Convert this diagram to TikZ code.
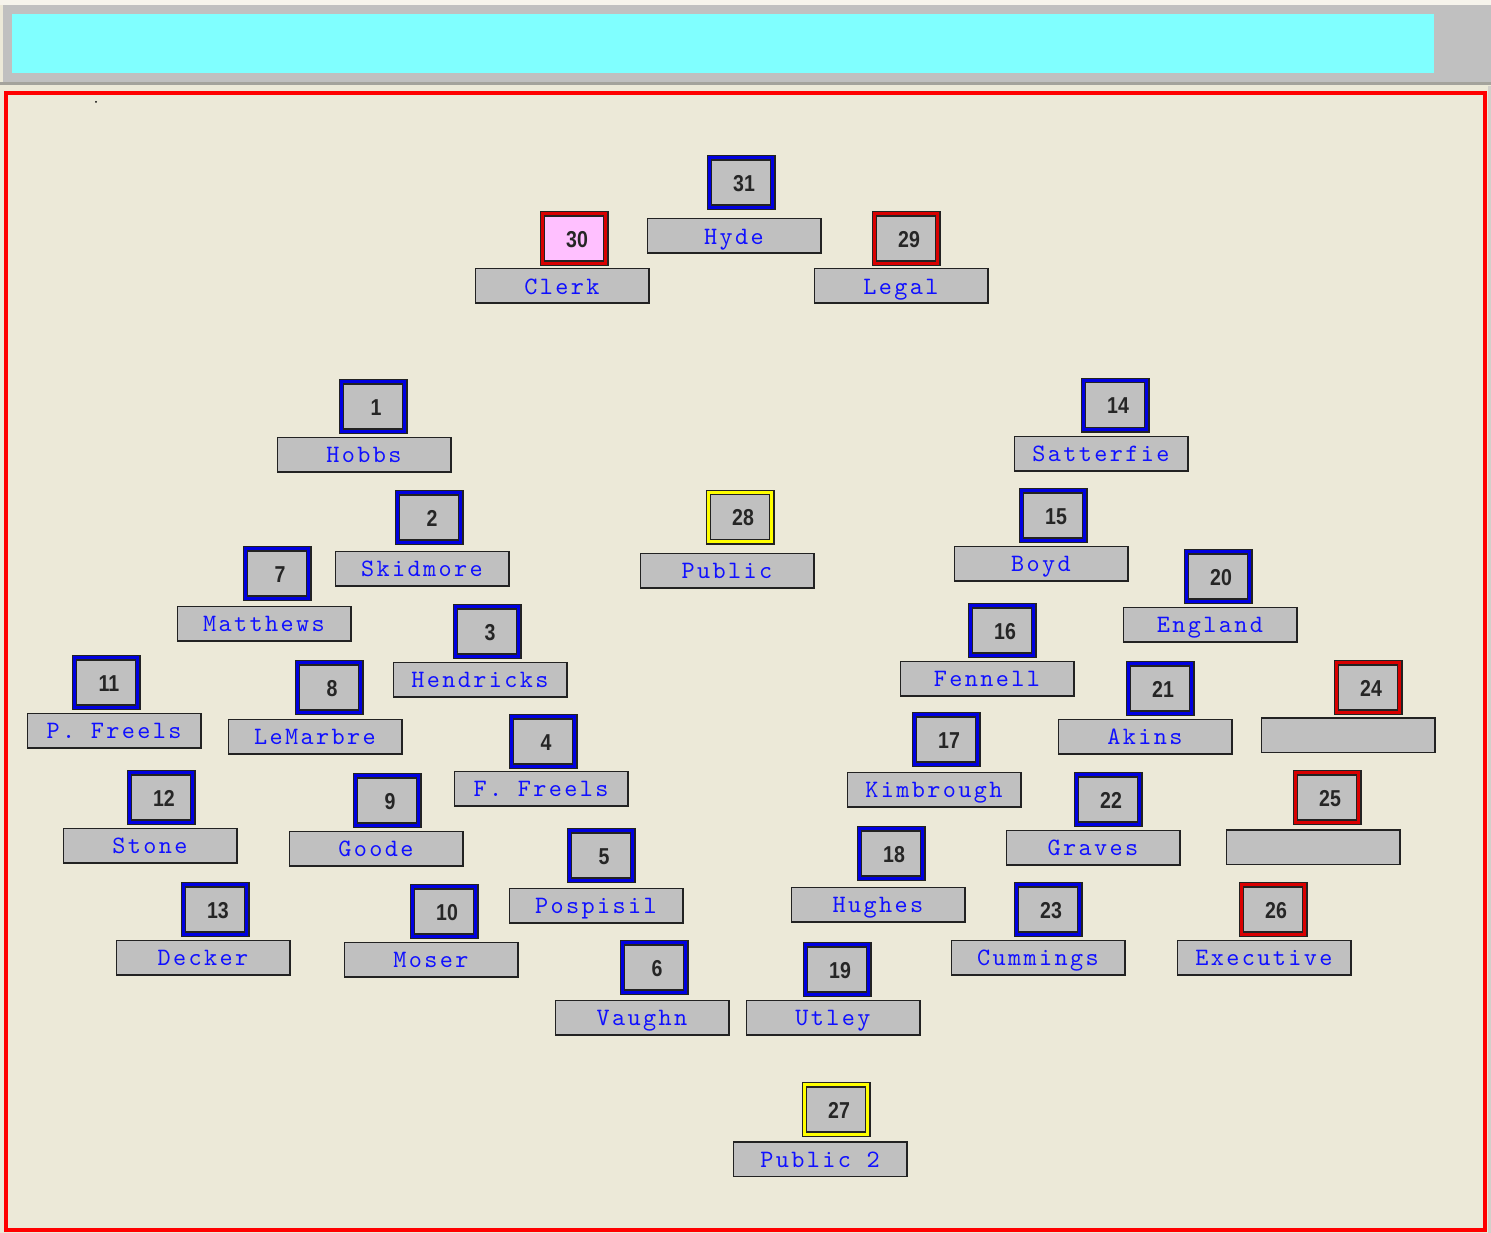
\documentclass[tikz,border=0pt]{standalone}
\usepackage{fontspec}
\newfontfamily\numfont[FakeStretch=0.85]{Liberation Sans}
\newfontfamily\labfont[LetterSpace=9.5]{lmmono10-regular.otf}
\definecolor{bgbeige}{HTML}{ECE9D8}
\definecolor{topwhite}{HTML}{F6F4EC}
\definecolor{boxgray}{HTML}{C0C0C0}
\definecolor{bandgray}{HTML}{C0C0C0}
\definecolor{bandline}{HTML}{A4A39C}
\definecolor{barcyan}{HTML}{80FFFF}
\definecolor{framered}{HTML}{FF0000}
\definecolor{edge}{HTML}{222222}
\definecolor{bandblue}{HTML}{0000E0}
\definecolor{bandred}{HTML}{D80000}
\definecolor{bandyellow}{HTML}{FFFF00}
\definecolor{pinkfill}{HTML}{FFC0FF}
\definecolor{labblue}{HTML}{1010FF}
\begin{document}
\begin{tikzpicture}[x=1pt,y=-1pt,
  numbox/.style={rectangle, inner sep=0pt, minimum width=63.4pt, minimum height=49.4pt,
    fill=boxgray, draw=edge, line width=1.3pt, double distance=3pt,
    font=\numfont\bfseries\fontsize{23}{23}\selectfont, text=black!85,
    text height=20.5pt, text depth=3pt},
  blu/.style={numbox, double=bandblue},
  rd/.style={numbox, double=bandred},
  yl/.style={numbox, double=bandyellow},
  pk/.style={numbox, double=bandred, fill=pinkfill},
  labbox/.style={rectangle, inner sep=0pt, minimum width=173.5pt, minimum height=34.5pt,
    fill=boxgray, draw=edge, line width=1.5pt,
    font=\labfont\fontsize{25}{25}\selectfont, text=labblue,
    text height=20pt, text depth=3.6pt}]
\useasboundingbox (0,0) rectangle (1491,1233);
% background
\fill[bgbeige] (0,0) rectangle (1491,1233);
\fill[topwhite] (0,0) rectangle (1491,5);
\fill[bandgray] (3,5) rectangle (1491,82);
\fill[bandline] (0,82) rectangle (1491,85.5);
\fill[barcyan] (11.5,14) rectangle (1434,73);
\fill[bandgray!60!bgbeige] (1488,86) rectangle (1491,1233);
\draw[framered, line width=4pt] (6,93) rectangle (1485,1230);
\fill[black] (96,102) circle (1pt);
% people
\foreach \n/\nx/\ny/\sty/\lab/\lx/\ly in {
  31/741/182.5/blu/Hyde/734/236,
  30/574/238.5/pk/Clerk/562/286,
  29/906/238.5/rd/Legal/901/286,
  1/373/406.5/blu/Hobbs/364/454.5,
  14/1115/405/blu/Satterfie/1101/453.5,
  2/429/517.5/blu/Skidmore/422/568.5,
  28/740/517/yl/Public/727/570.5,
  15/1053/515.5/blu/Boyd/1041/563.5,
  7/277/573.5/blu/Matthews/264/623.5,
  20/1218/576.5/blu/England/1210/624.5,
  3/487/631.5/blu/Hendricks/480/679.5,
  16/1002/630.5/blu/Fennell/987/678.5,
  11/106/682.5/blu/P. Freels/114/730.5,
  8/329/687.5/blu/LeMarbre/315/736.5,
  21/1160/688.5/blu/Akins/1145/736.5,
  24/1368/687.5/rd/{}/1348/735,
  4/543/741.5/blu/F. Freels/541/788.5,
  17/946/739.5/blu/Kimbrough/934/789.5,
  12/161/797.5/blu/Stone/150/845.5,
  9/387/800.5/blu/Goode/376/848.5,
  22/1108/799.5/blu/Graves/1093/847.5,
  25/1327/797.5/rd/{}/1313/847,
  5/601/855.5/blu/Pospisil/596/905.5,
  18/891/853.5/blu/Hughes/878/904.5,
  13/215/909.5/blu/Decker/203/957.5,
  10/444/911.5/blu/Moser/431/959.5,
  23/1048/909.5/blu/Cummings/1038/957.5,
  26/1273/909.5/rd/Executive/1264/957.5,
  6/654/967.5/blu/Vaughn/642/1017.5,
  19/837/969.5/blu/Utley/833/1017.5,
  27/836/1109.5/yl/Public 2/820/1159}{
  \node[\sty] (n\n) at (\nx,\ny) {\hspace*{6pt}\n};
  \node[labbox] (l\n) at (\lx,\ly) {\lab};
}
\end{tikzpicture}
\end{document}
